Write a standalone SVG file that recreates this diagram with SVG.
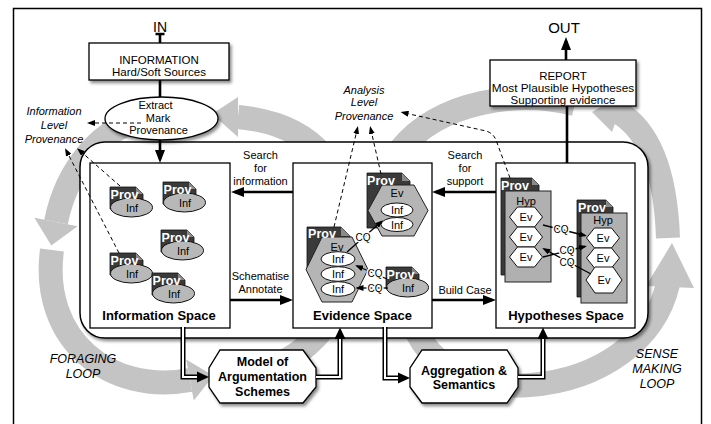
<svg xmlns="http://www.w3.org/2000/svg" width="711" height="424" viewBox="0 0 711 424">
<defs>
<filter id="sh" x="-10%" y="-10%" width="130%" height="140%"><feDropShadow dx="2" dy="2.5" stdDeviation="1.5" flood-color="#000" flood-opacity="0.45"/></filter>
<marker id="m" viewBox="0 0 13 10" refX="9" refY="5" markerWidth="13" markerHeight="10" markerUnits="userSpaceOnUse" orient="auto"><path d="M0,0 L13,5 L0,10 Z" fill="#000"/></marker>
<marker id="s" viewBox="0 0 8 6" refX="6" refY="3" markerWidth="8" markerHeight="6" markerUnits="userSpaceOnUse" orient="auto"><path d="M0,0 L8,3 L0,6 Z" fill="#000"/></marker>
<g id="pi">
<path d="M0,0 H26 L33,7 V22 H0 Z" fill="#3a3a3a" stroke="#111" stroke-width="0.8"/>
<path d="M26,0 V7 H33 Z" fill="#8a8a8a"/>
<ellipse cx="21.5" cy="20.5" rx="21" ry="9.5" fill="#b8b8b8" stroke="#111" stroke-width="1"/>
<text x="14.5" y="12" class="prov">Prov</text>
<text x="22" y="25" class="t11">Inf</text>
</g>
</defs>
<style>
text{font-family:"Liberation Sans",Arial,sans-serif;fill:#000}
.t11{font-size:11px;text-anchor:middle}
.t115{font-size:11.5px;text-anchor:middle}
.it{font-size:11px;font-style:italic;text-anchor:middle}
.loopt{font-size:12.5px;font-style:italic;text-anchor:middle}
.bold{font-size:13px;font-weight:bold;text-anchor:middle}
.oct{font-size:12.5px;font-weight:bold;text-anchor:middle}
.prov{font-size:12.5px;font-weight:bold;fill:#fff;text-anchor:middle}
.cq{font-size:10px;text-anchor:middle;stroke:#fff;stroke-width:3;paint-order:stroke}
.band{fill:none;stroke:#c4c4c4;stroke-width:24}
.head{fill:#c4c4c4}
.box{fill:#fff;stroke:#000;stroke-width:1.3}
.thick{stroke:#000;stroke-width:2.6;fill:none}
.thin{stroke:#000;stroke-width:1.3;fill:none}
.dash{stroke:#000;stroke-width:1;fill:none;stroke-dasharray:4 3}
.pipeo{stroke:#000;stroke-width:5;fill:none}
.pipei{stroke:#fff;stroke-width:2;fill:none}
.hex{fill:#b5b5b5;stroke:#222;stroke-width:1}
.whex{fill:#fff;stroke:#111;stroke-width:1}
.inf{fill:#fff;stroke:#111;stroke-width:1}
.doc{fill:#3a3a3a;stroke:#111;stroke-width:0.8}
.fold{fill:#8a8a8a}
.hyp{fill:#b0b0b0;stroke:#222;stroke-width:1}
</style>

<rect x="13.5" y="8.5" width="688" height="430" fill="#fff" stroke="#000" stroke-width="1.5"/>

<g id="loops">
<path class="band" d="M225,377 C300,372 352,320 350,240 C349,170 315,124 238,117"/>
<polygon class="head" points="238,97 212,114 238,137"/>
<path class="band" d="M150,118 C100,125 66,172 56,222"/>
<polygon class="head" points="77.6,226.3 51.3,245.5 34.4,217.7"/>
<path class="band" d="M52,250 C40,340 110,395 190,380"/>
<polygon class="head" points="193.8,400.6 213.5,375.7 186.2,359.4"/>
<path class="band" d="M400,250 C400,360 460,390 530,385 C600,380 655,340 668,284"/>
<polygon class="head" points="646,286 672,243 694,288"/>
<path class="band" d="M668,238 C666,180 652,132 618,112"/>
<polygon class="head" points="626,92 592,112 612,132"/>
<path class="band" d="M575,104 C520,90 440,100 400,150 C390,170 395,220 400,250"/>
</g>

<g id="main-box">
<rect x="80" y="142" width="568" height="196" rx="25" fill="#fff" stroke="#000" stroke-width="1.5" filter="url(#sh)"/>
</g>

<g id="info-source">
<rect class="box" x="89" y="43" width="140" height="37" filter="url(#sh)"/>
<text class="t115" x="159" y="64">INFORMATION</text>
<text class="t115" x="159" y="76">Hard/Soft Sources</text>
</g>

<g id="extract">
<ellipse cx="161.5" cy="118.5" rx="56.5" ry="21.5" fill="#fff" stroke="#000" stroke-width="1.3" filter="url(#sh)"/>
<text class="t11" x="155.5" y="109">Extract</text>
<text class="t11" x="158" y="121.5">Mark</text>
<text class="t11" x="158.5" y="134">Provenance</text>
</g>

<g id="report">
<rect class="box" x="490" y="60" width="146" height="46" filter="url(#sh)"/>
<text class="t115" x="563" y="80">REPORT</text>
<text class="t115" x="563" y="92" style="font-size:11.8px">Most Plausible Hypotheses</text>
<text class="t115" x="563" y="103.5">Supporting evidence</text>
</g>

<text x="160" y="32" style="font-size:14px;text-anchor:middle">IN</text>
<text x="564" y="33" style="font-size:15px;text-anchor:middle">OUT</text>

<g id="info-level-label">
<text class="it" x="54" y="115">Information</text>
<text class="it" x="54" y="129">Level</text>
<text class="it" x="54" y="143">Provenance</text>
</g>
<g id="analysis-level-label">
<text class="it" x="364" y="94">Analysis</text>
<text class="it" x="364" y="106">Level</text>
<text class="it" x="364" y="120">Provenance</text>
</g>

<g id="information-space">
<rect class="box" x="90" y="163" width="140" height="165" stroke-width="1"/>
<use href="#pi" x="110" y="187"/>
<use href="#pi" x="163" y="182"/>
<use href="#pi" x="161" y="230"/>
<use href="#pi" x="110" y="253"/>
<use href="#pi" x="152" y="273"/>
<text class="bold" x="159" y="320">Information Space</text>
</g>

<g id="evidence-space">
<rect class="box" x="293" y="163" width="139" height="165" stroke-width="1"/>
<path class="doc" d="M367,173 H402 L410,181 V228 H367 Z"/>
<path class="fold" d="M402,173 V181 H410 Z"/>
<polygon class="hex" points="382,185 414,185 428,210.5 414,236 382,236 368,210.5"/>
<text class="prov" x="381" y="185">Prov</text>
<text class="t11" x="397" y="197">Ev</text>
<ellipse class="inf" cx="397" cy="210" rx="16" ry="7"/>
<text class="t11" x="397" y="214">Inf</text>
<ellipse class="inf" cx="397" cy="224.5" rx="16" ry="7"/>
<text class="t11" x="397" y="228.5">Inf</text>

<path class="doc" d="M307,227 H341 L350,236 V270 H307 Z"/>
<path class="fold" d="M341,227 V236 H350 Z"/>
<polygon class="hex" points="322,237 352,237 368,269.5 352,302 322,302 306,269.5"/>
<text class="prov" x="322" y="238">Prov</text>
<text class="t11" x="337" y="251">Ev</text>
<ellipse class="inf" cx="338" cy="259" rx="17" ry="7.3"/>
<text class="t11" x="338" y="263">Inf</text>
<ellipse class="inf" cx="338" cy="274" rx="17" ry="7.3"/>
<text class="t11" x="338" y="278">Inf</text>
<ellipse class="inf" cx="338" cy="289" rx="17" ry="7.3"/>
<text class="t11" x="338" y="293">Inf</text>

<use href="#pi" x="386" y="267"/>
<text class="bold" x="362.5" y="320">Evidence Space</text>
</g>

<g id="hypotheses-space">
<rect class="box" x="496" y="163" width="139" height="165" stroke-width="1"/>
<path class="doc" d="M501,178 H532 L539,185 V275 H501 Z"/>
<path class="fold" d="M532,178 V185 H539 Z"/>
<rect class="hyp" x="505" y="191" width="46" height="91"/>
<text class="prov" x="515" y="189.5">Prov</text>
<text class="t11" x="526" y="205">Hyp</text>
<polygon class="whex" points="509.5,217 517.5,207 534.5,207 542.5,217 534.5,227 517.5,227"/>
<text class="t11" x="526" y="221">Ev</text>
<polygon class="whex" points="509.5,237 517.5,227 534.5,227 542.5,237 534.5,247 517.5,247"/>
<text class="t11" x="526" y="241">Ev</text>
<polygon class="whex" points="509.5,257 517.5,247 534.5,247 542.5,257 534.5,267 517.5,267"/>
<text class="t11" x="526" y="261">Ev</text>

<path class="doc" d="M577,200 H606 L613,207 V297 H577 Z"/>
<path class="fold" d="M606,200 V207 H613 Z"/>
<rect class="hyp" x="581" y="213" width="46" height="90"/>
<text class="prov" x="592" y="211.5">Prov</text>
<text class="t11" x="603" y="224">Hyp</text>
<polygon class="whex" points="586.5,238 594.5,228 611.5,228 619.5,238 611.5,248 594.5,248"/>
<text class="t11" x="603" y="242">Ev</text>
<polygon class="whex" points="586.5,258 594.5,248 611.5,248 619.5,258 611.5,268 594.5,268"/>
<text class="t11" x="603" y="262">Ev</text>
<polygon class="whex" points="586,280 595,267 613,267 622,280 613,293 595,293"/>
<text class="t11" x="604" y="284">Ev</text>
<text class="bold" x="566" y="320">Hypotheses Space</text>
</g>

<g id="model-args">
<polygon class="box" points="220,350 303,350 316,368 316,387 303,403 220,403 209,387 209,368" filter="url(#sh)"/>
<text class="oct" x="262.5" y="366">Model of</text>
<text class="oct" x="262.5" y="381">Argumentation</text>
<text class="oct" x="262.5" y="396">Schemes</text>
</g>

<g id="aggregation">
<polygon class="box" points="422,350 507,350 518,368 518,387 507,403 422,403 410,387 410,368" filter="url(#sh)"/>
<text class="oct" x="464" y="374.5">Aggregation &amp;</text>
<text class="oct" x="464" y="389">Semantics</text>
</g>

<g id="labels">
<text class="t11" x="260.5" y="159">Search</text>
<text class="t11" x="260.5" y="172">for</text>
<text class="t11" x="260.5" y="185">information</text>
<text class="t11" x="260.5" y="280">Schematise</text>
<text class="t11" x="260.5" y="293">Annotate</text>
<text class="t11" x="465" y="159">Search</text>
<text class="t11" x="465" y="172">for</text>
<text class="t11" x="465" y="185">support</text>
<text class="t11" x="465" y="294">Build Case</text>
<text class="loopt" x="83" y="362.5">FORAGING</text>
<text class="loopt" x="83" y="377.5">LOOP</text>
<text class="loopt" x="657" y="357.5">SENSE</text>
<text class="loopt" x="657" y="372.5">MAKING</text>
<text class="loopt" x="657" y="387.5">LOOP</text>
</g>

<g id="connectors">
<line class="thick" x1="160" y1="34" x2="160" y2="43"/>
<line x1="155.5" y1="34" x2="164.5" y2="34" stroke="#000" stroke-width="2.5"/>
<line class="thick" x1="160" y1="80" x2="160" y2="97"/>
<line class="thick" x1="160" y1="140" x2="160" y2="159" marker-end="url(#m)"/>
<line class="thick" x1="566" y1="60" x2="566" y2="41" marker-end="url(#m)"/>
<line class="thick" x1="567" y1="106" x2="567" y2="163"/>
<line class="thick" x1="293" y1="192" x2="235" y2="192" marker-end="url(#m)"/>
<line class="thick" x1="230" y1="300" x2="289" y2="300" marker-end="url(#m)"/>
<line class="thick" x1="496" y1="192" x2="436" y2="192" marker-end="url(#m)"/>
<line class="thick" x1="432" y1="300" x2="492" y2="300" marker-end="url(#m)"/>

<path class="pipeo" d="M183,327 V377 H199"/>
<path class="pipei" d="M183,327 V377 H199"/>
<polygon points="197,371.5 209,377 197,382.5" fill="#000"/>
<path class="pipeo" d="M316,377 H340 V338"/>
<path class="pipei" d="M316,377 H340 V338"/>
<polygon points="334.5,339 340,327.5 345.5,339" fill="#000"/>
<path class="pipeo" d="M385,327 V378 H400"/>
<path class="pipei" d="M385,327 V378 H400"/>
<polygon points="398,372.5 410,378 398,383.5" fill="#000"/>
<path class="pipeo" d="M518,377 H543 V338"/>
<path class="pipei" d="M518,377 H543 V338"/>
<polygon points="537.5,339 543,327.5 548.5,339" fill="#000"/>

<line class="dash" x1="141" y1="123" x2="89" y2="123" marker-end="url(#s)"/>
<line class="dash" x1="120" y1="186" x2="78.5" y2="149.5" marker-end="url(#s)"/>
<line class="dash" x1="119" y1="253" x2="66" y2="150" marker-end="url(#s)"/>
<line class="dash" x1="334" y1="227" x2="357.5" y2="128" marker-end="url(#s)"/>
<line class="dash" x1="381" y1="174" x2="370.5" y2="128" marker-end="url(#s)"/>
<path class="dash" d="M510,178 L496,140 Q493,133 486,131 L402.5,112.5" marker-end="url(#s)"/>

<line class="thin" x1="347" y1="252" x2="381.5" y2="221.5" marker-end="url(#s)"/>
<line class="thin" x1="387" y1="279" x2="357" y2="266" marker-end="url(#s)"/>
<line class="thin" x1="388" y1="288" x2="357.5" y2="288" marker-end="url(#s)"/>
<line class="thin" x1="543" y1="225" x2="585" y2="235.5" marker-end="url(#s)"/>
<line class="thin" x1="543" y1="257" x2="585" y2="246.5" marker-end="url(#s)"/>
<line class="thin" x1="591" y1="274" x2="544" y2="249" marker-end="url(#s)"/>
<text class="cq" x="363" y="241">CQ</text>
<text class="cq" x="375" y="277">CQ</text>
<text class="cq" x="375" y="292">CQ</text>
<text class="cq" x="561" y="233">CQ</text>
<text class="cq" x="567" y="254">CQ</text>
<text class="cq" x="567" y="266">CQ</text>
</g>
</svg>
